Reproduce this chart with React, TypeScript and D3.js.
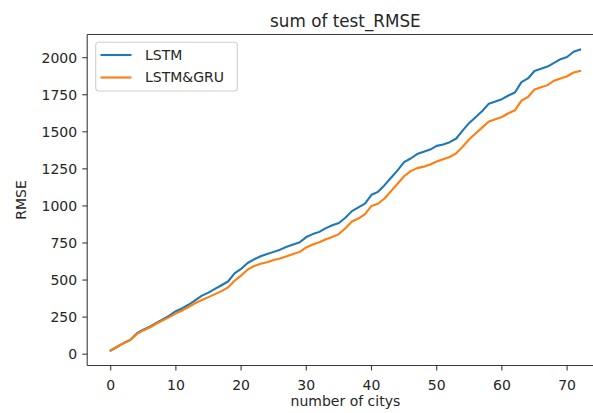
import React from "react";
import * as d3 from "d3";

const cityIndex: number[] = Array.from({ length: 73 }, (_, i) => i);
const lstm: number[] = [
  25, 50, 75, 95, 140, 165, 185, 210, 235, 260, 290, 310, 335, 365, 395, 415, 440, 465, 490, 545,
  575, 615, 640, 660, 675, 690, 705, 725, 740, 755, 790, 810, 825, 850, 870, 885, 920, 965, 990, 1015,
  1075, 1095, 1140, 1190, 1240, 1295, 1320, 1350, 1365, 1380, 1405, 1415, 1430, 1455, 1510, 1560, 1600, 1640, 1690, 1705,
  1720, 1745, 1765, 1835, 1860, 1910, 1925, 1940, 1965, 1990, 2005, 2040, 2055,
];
const lstmGru: number[] = [
  25, 50, 75, 95, 135, 160, 180, 205, 228, 250, 275, 295, 320, 345, 365, 385, 405, 425, 450, 495,
  530, 570, 595, 610, 620, 635, 645, 660, 675, 690, 720, 740, 755, 775, 790, 810, 850, 895, 915, 945,
  1000, 1015, 1050, 1100, 1150, 1200, 1235, 1255, 1265, 1280, 1300, 1315, 1330, 1355, 1400, 1450, 1490, 1530, 1570, 1585,
  1600, 1625, 1645, 1710, 1735, 1785, 1800, 1815, 1845, 1860, 1875, 1900, 1910,
];
const xTicks: number[] = [0, 10, 20, 30, 40, 50, 60, 70];
const yTicks: number[] = [0, 250, 500, 750, 1000, 1250, 1500, 1750, 2000];
const seriesNames: string[] = ["LSTM", "LSTM&GRU"];
const seriesColors: string[] = ["#1f77b4", "#ff7f0e"];

const W = 593;
const H = 413;
const left = 87.2;
const right = 603.6;
const top = 34.5;
const bottom = 365.5;
const font = "'DejaVu Sans', sans-serif";
const textColor = "#262626";

export default function App() {
  const x = d3.scaleLinear().domain([-3.6, 75.6]).range([left, right]);
  const y = d3.scaleLinear().domain([-76.5, 2156.5]).range([bottom, top]);
  const series = [lstm, lstmGru];
  const line = (vals: number[]) =>
    d3.line<number>().x((_, i) => x(cityIndex[i])).y((d) => y(d))(vals) || "";

  return (
    <svg
      width={W}
      height={H}
      style={{ position: "absolute", left: 0, top: 0, background: "#fff" }}
      fontFamily={font}
    >
      <rect x={0} y={0} width={W} height={H} fill="#fff" />
      {series.map((s, k) => (
        <path key={k} d={line(s)} fill="none" stroke={seriesColors[k]} strokeWidth={2.1} strokeLinejoin="round" strokeLinecap="square" />
      ))}
      {/* spines (right spine falls outside the cropped canvas) */}
      <g stroke="#3a3a3a" strokeWidth={1.1} fill="none">
        <line x1={left} x2={left} y1={top} y2={bottom} />
        <line x1={left} x2={W} y1={bottom} y2={bottom} />
        <line x1={left} x2={W} y1={top} y2={top} />
      </g>
      {/* x ticks */}
      {xTicks.map((t) => (
        <g key={t} transform={`translate(${x(t)},${bottom})`}>
          <line y1={0} y2={4.9} stroke="#3a3a3a" strokeWidth={1.1} />
          <text y={24} textAnchor="middle" fontSize={14} fill={textColor}>{t}</text>
        </g>
      ))}
      {/* y ticks */}
      {yTicks.map((t) => (
        <g key={t} transform={`translate(${left},${y(t)})`}>
          <line x1={0} x2={-4.9} stroke="#3a3a3a" strokeWidth={1.1} />
          <text x={-10} dy="0.35em" textAnchor="end" fontSize={14} fill={textColor}>{t}</text>
        </g>
      ))}
      <text x={(left + right) / 2} y={27} textAnchor="middle" fontSize={16.8} fill={textColor}>sum of test_RMSE</text>
      <text x={(left + right) / 2} y={406} textAnchor="middle" fontSize={14} fill={textColor}>number of citys</text>
      <text transform={`translate(26,${(top + bottom) / 2}) rotate(-90)`} textAnchor="middle" fontSize={14} fill={textColor}>RMSE</text>
      {/* legend */}
      <rect x={95.7} y={42.3} width={141.6} height={48.7} rx={3} fill="#fff" fillOpacity={0.8} stroke="#d0d0d0" strokeWidth={1.1} />
      {seriesNames.map((n, k) => (
        <g key={n} transform={`translate(0,${55 + k * 22.5})`}>
          <line x1={100.5} x2={131.5} y1={0} y2={0} stroke={seriesColors[k]} strokeWidth={2.1} />
          <text x={145} dy="0.35em" fontSize={14} fill={textColor}>{n}</text>
        </g>
      ))}
    </svg>
  );
}
